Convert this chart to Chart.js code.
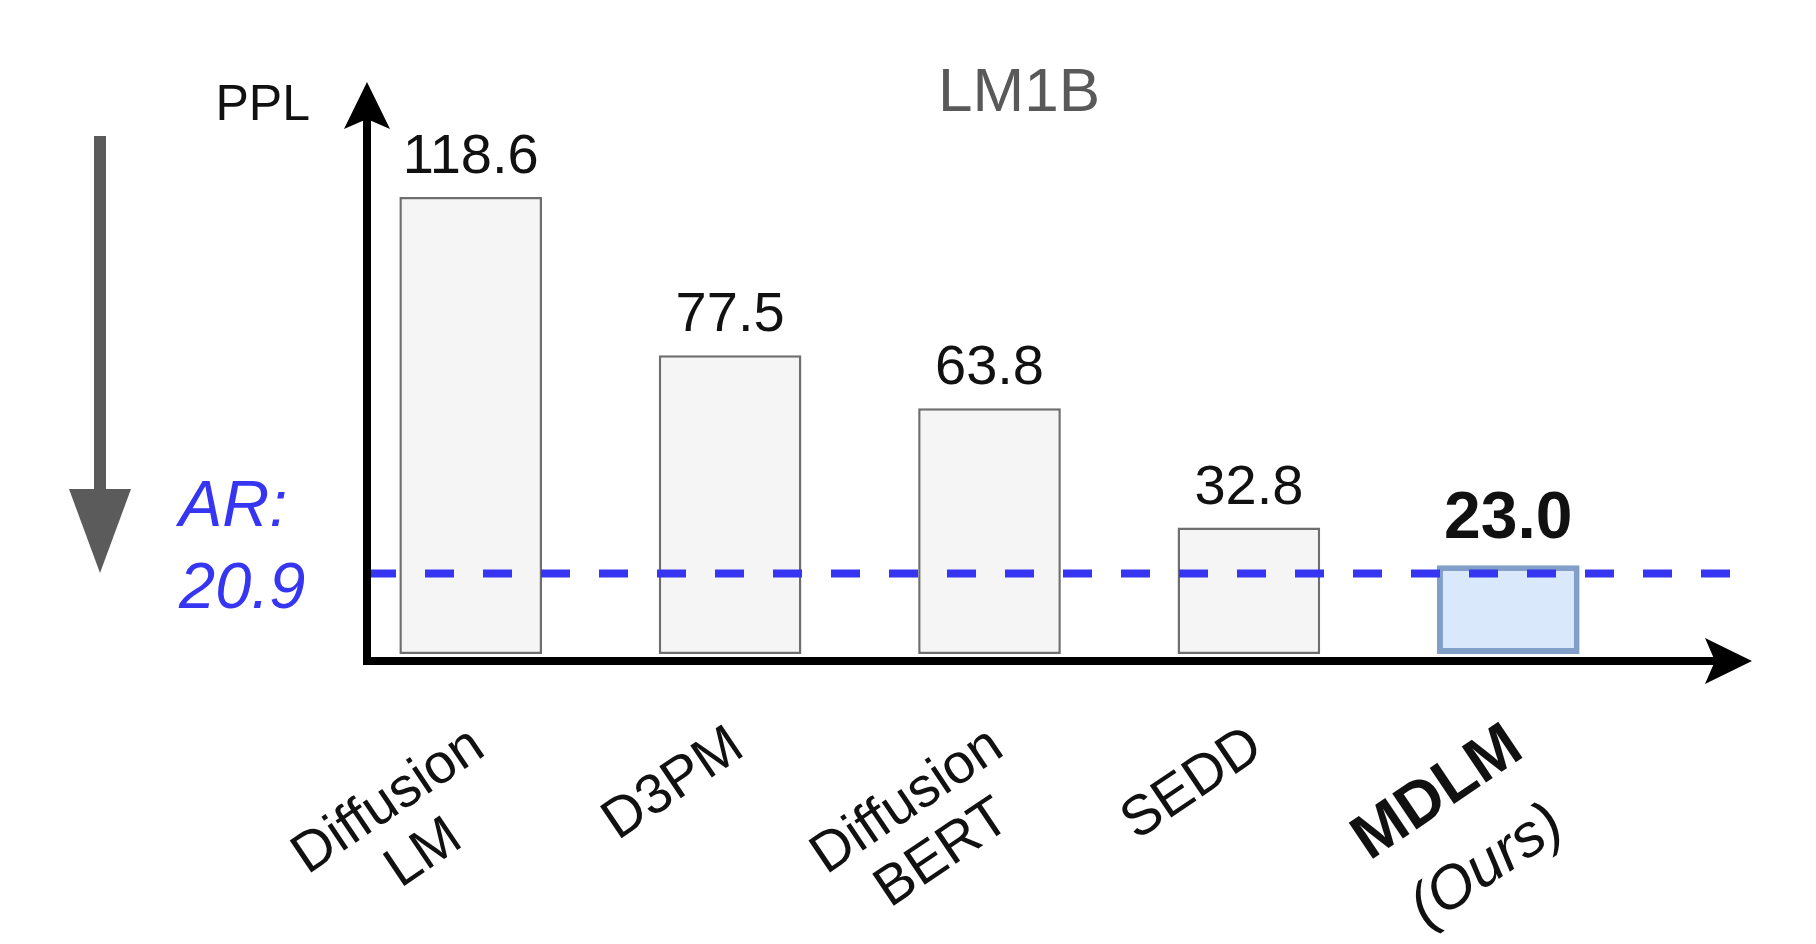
<!DOCTYPE html>
<html>
<head>
<meta charset="utf-8">
<title>LM1B</title>
<script src="https://cdn.jsdelivr.net/npm/chart.js@4.4.1/dist/chart.umd.min.js"></script>
<style>
  html, body { margin: 0; padding: 0; background: #fff; }
</style>
</head>
<body>
<canvas id="pplChart" width="1816" height="944"></canvas>
<script>
// data
const categories = [["Diffusion", "LM"], ["D3PM"], ["Diffusion", "BERT"], ["SEDD"], ["MDLM", "(Ours)"]];
const ppl = [118.6, 77.5, 63.8, 32.8, 23.0];
const valueLabels = ["118.6", "77.5", "63.8", "32.8", "23.0"];
const oursIndex = 4;
const arValue = 20.9;
const arLabel = ["AR:", "20.9"];
const chartTitle = "LM1B";
const yAxisLabel = "PPL";

const FONT = '"Liberation Sans", Arial, Helvetica, sans-serif';
const BLUE = "#3535f2";

function arrowHead(ctx, x, y, angle) {
  // drawio style arrow with a small notch at the base
  ctx.save();
  ctx.translate(x, y);
  ctx.rotate(angle);
  ctx.beginPath();
  ctx.moveTo(0, 0);
  ctx.lineTo(-47, -23);
  ctx.lineTo(-37, 0);
  ctx.lineTo(-47, 23);
  ctx.closePath();
  ctx.fill();
  ctx.restore();
}

const decorations = {
  id: "decorations",
  afterDatasetsDraw(chart) {
    const ctx = chart.ctx;
    const area = chart.chartArea;
    const yScale = chart.scales.y;
    const meta = chart.getDatasetMeta(0);
    const axisX = area.left + 26;
    const axisY = area.bottom + 7;
    const xTip = area.right + 114;

    ctx.save();

    // AR baseline
    const arY = yScale.getPixelForValue(arValue);
    ctx.strokeStyle = BLUE;
    ctx.lineWidth = 8;
    ctx.setLineDash([29, 29]);
    ctx.beginPath();
    ctx.moveTo(axisX, arY);
    ctx.lineTo(area.right + 104, arY);
    ctx.stroke();
    ctx.setLineDash([]);

    // axes
    ctx.strokeStyle = "#000";
    ctx.fillStyle = "#000";
    ctx.lineWidth = 8;
    ctx.beginPath();
    ctx.moveTo(axisX, area.top + 30);
    ctx.lineTo(axisX, axisY + 4);
    ctx.moveTo(axisX - 4, axisY);
    ctx.lineTo(xTip - 30, axisY);
    ctx.stroke();
    arrowHead(ctx, axisX, area.top + 6, -Math.PI / 2);
    arrowHead(ctx, xTip, axisY, 0);

    // "lower is better" arrow
    ctx.fillStyle = "#5b5b5b";
    ctx.fillRect(94, 136, 12, 356);
    ctx.beginPath();
    ctx.moveTo(69, 489);
    ctx.lineTo(131, 489);
    ctx.lineTo(100, 573);
    ctx.closePath();
    ctx.fill();

    // value labels
    ctx.fillStyle = "#111";
    ctx.textAlign = "center";
    ctx.textBaseline = "alphabetic";
    meta.data.forEach((bar, i) => {
      if (i === oursIndex) {
        ctx.font = "bold 66px " + FONT;
        ctx.fillText(valueLabels[i], bar.x, bar.y - 27);
      } else {
        ctx.font = "56px " + FONT;
        ctx.fillText(valueLabels[i], bar.x, bar.y - 24);
      }
    });

    // rotated category labels
    const angle = -34 * Math.PI / 180;
    meta.data.forEach((bar, i) => {
      const lines = categories[i];
      const ours = i === oursIndex;
      const lineH = ours ? 88 : 63;
      ctx.save();
      ctx.translate(bar.x + 8, axisY + 80);
      ctx.rotate(angle);
      ctx.textBaseline = "middle";
      ctx.font = (ours ? "bold 63px " : "56px ") + FONT;
      const w0 = ctx.measureText(lines[0]).width;
      ctx.textAlign = "right";
      ctx.fillText(lines[0], 0, 0);
      ctx.textAlign = "center";
      for (let k = 1; k < lines.length; k++) {
        ctx.font = (ours ? "italic 60px " : "56px ") + FONT;
        ctx.fillText(lines[k], -w0 / 2, k * lineH);
      }
      ctx.restore();
    });

    // title and axis name
    ctx.textAlign = "center";
    ctx.textBaseline = "alphabetic";
    ctx.fillStyle = "#595959";
    ctx.font = "62px " + FONT;
    ctx.fillText(chartTitle, 1019, 111);

    ctx.fillStyle = "#111";
    ctx.textAlign = "right";
    ctx.font = "50px " + FONT;
    ctx.fillText(yAxisLabel, 310, 120);

    // AR label
    ctx.fillStyle = BLUE;
    ctx.textAlign = "left";
    ctx.font = "italic 65px " + FONT;
    ctx.fillText(arLabel[0], 179, arY - 47);
    ctx.fillText(arLabel[1], 179, arY + 35);

    ctx.restore();
  }
};

new Chart(document.getElementById("pplChart"), {
  type: "bar",
  data: {
    labels: categories,
    datasets: [{
      data: ppl,
      backgroundColor: ppl.map((v, i) => i === oursIndex ? "#dae8fc" : "#f5f5f5"),
      borderColor: ppl.map((v, i) => i === oursIndex ? "rgba(108,142,191,0.85)" : "#6e6e6e"),
      borderWidth: ppl.map((v, i) => i === oursIndex ? 6 : 2.5),
      borderSkipped: false,
      barPercentage: 0.55,
      categoryPercentage: 1.0
    }]
  },
  options: {
    responsive: false,
    devicePixelRatio: 1,
    animation: false,
    layout: { padding: { left: 341, right: 178, top: 76, bottom: 290 } },
    plugins: {
      legend: { display: false },
      title: { display: false },
      tooltip: { enabled: false }
    },
    scales: {
      x: { display: false, offset: true },
      y: { display: false, min: 0, max: 150 }
    }
  },
  plugins: [decorations]
});
</script>
</body>
</html>
